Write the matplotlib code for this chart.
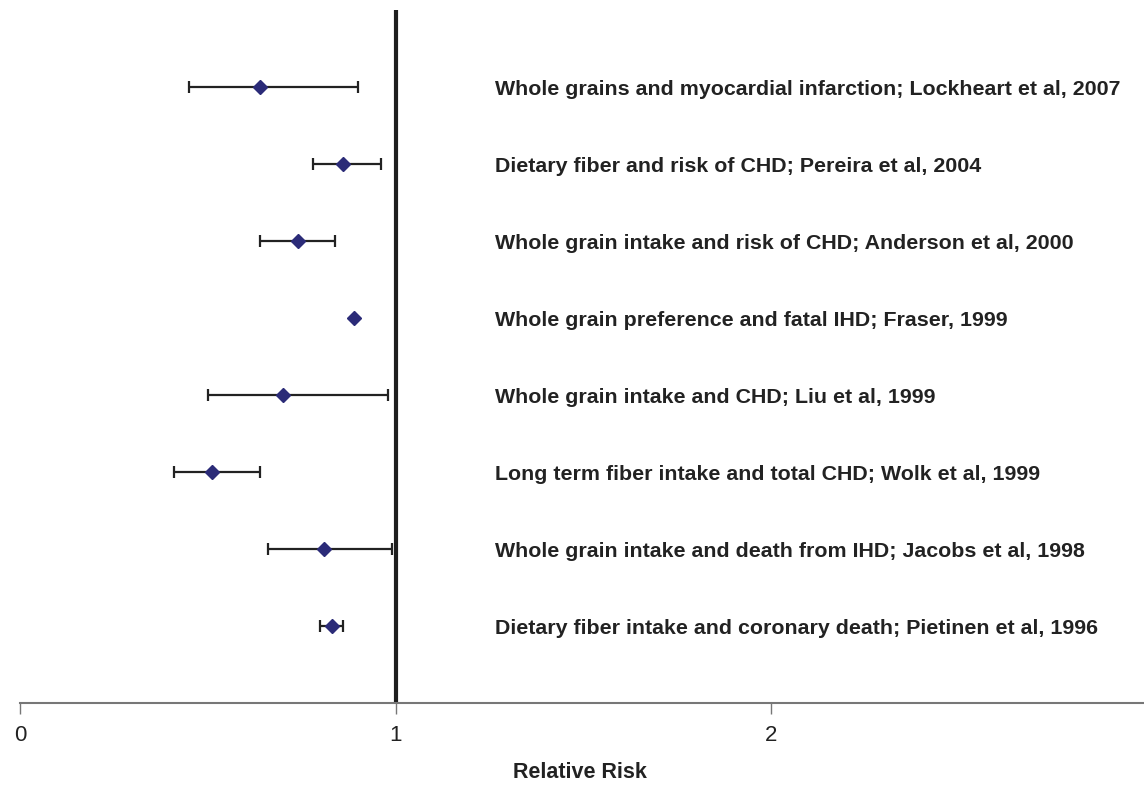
import matplotlib.pyplot as plt

plt.rcParams['font.family'] = ['Liberation Sans', 'DejaVu Sans']

# --- data ---
studies = [
    'Whole grains and myocardial infarction; Lockheart et al, 2007',
    'Dietary fiber and risk of CHD; Pereira et al, 2004',
    'Whole grain intake and risk of CHD; Anderson et al, 2000',
    'Whole grain preference and fatal IHD; Fraser, 1999',
    'Whole grain intake and CHD; Liu et al, 1999',
    'Long term fiber intake and total CHD; Wolk et al, 1999',
    'Whole grain intake and death from IHD; Jacobs et al, 1998',
    'Dietary fiber intake and coronary death; Pietinen et al, 1996',
]
rr = [0.64, 0.86, 0.74, 0.89, 0.70, 0.51, 0.81, 0.83]
ci_low = [0.45, 0.78, 0.64, None, 0.50, 0.41, 0.66, 0.80]
ci_high = [0.90, 0.96, 0.84, None, 0.98, 0.64, 0.99, 0.86]
x_ticks = [0, 1, 2]

fig = plt.figure(figsize=(11.44, 7.86), dpi=100)
ax = fig.add_axes([0.0175, 0.1056, 0.9815, 0.8817])

ypos = list(range(1, len(studies) + 1))

for y, m, lo, hi in zip(ypos, rr, ci_low, ci_high):
    if lo is not None:
        ax.errorbar(m, y, xerr=[[m - lo], [hi - m]], fmt='none',
                    ecolor='#222222', elinewidth=1.6, capsize=4, capthick=1.6, zorder=2)
    ax.plot(m, y, marker='D', markersize=7, color='#2b2b78', linestyle='none', zorder=3)

for y, label in zip(ypos, studies):
    ax.text(1.265, y + 0.03, label, ha='left', va='center', fontsize=15.4,
            fontweight='bold', color='#222222')

ax.axvline(1, color='#1e1e1e', linewidth=3, zorder=1)

ax.set_xlim(0, 2.99)
ax.set_ylim(9, 0)
ax.set_xticks(x_ticks)
ax.set_xticklabels([str(t) for t in x_ticks], fontsize=16, color='#222222')
ax.set_yticks([])
for side in ['left', 'right', 'top']:
    ax.spines[side].set_visible(False)
ax.spines['bottom'].set_color('#777777')
ax.spines['bottom'].set_linewidth(1.5)
ax.tick_params(axis='x', length=8, width=1, color='#777777', pad=8)

fig.text(0.507, 1 - 773 / 786, 'Relative Risk', ha='center', va='center',
         fontsize=15.5, fontweight='bold', color='#222222')

fig.savefig('out.png', dpi=100)
